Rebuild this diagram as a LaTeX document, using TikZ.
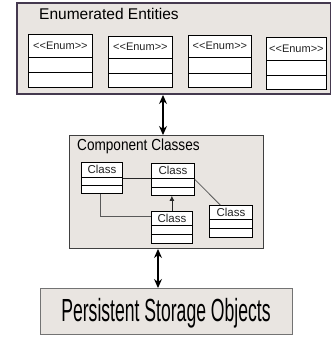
\documentclass[tikz,border=0pt]{standalone}
\usepackage{fontspec}
\setmainfont{Liberation Sans}
\newfontfamily\condfont[FakeStretch=0.85]{Liberation Sans}
\newfontfamily\narrowfont[FakeStretch=0.55]{Liberation Sans}
\usetikzlibrary{arrows.meta,calc}

\definecolor{panelfill}{HTML}{E9E5E1}
\definecolor{paneldraw}{HTML}{45394F}
\definecolor{labeltext}{HTML}{222222}

\tikzset{
  panel/.style={draw=paneldraw, fill=panelfill, anchor=north west, inner sep=0pt},
  umlbox/.style={draw=black, fill=white, line width=0.8pt, anchor=north west, inner sep=0pt},
  biarrow/.style={{Stealth[length=9pt,width=8pt]}-{Stealth[length=9pt,width=8pt]}, line width=1.2pt},
  link/.style={line width=0.8pt, draw=black!85},
}

% name, x, y, width, height, first rule, second rule, text size, header text
\newcommand{\umlclass}[9]{%
  \node[umlbox, minimum width=#4pt, minimum height=#5pt] (#1) at (#2,#3) {};
  \node[font=\fontsize{#8}{12}\selectfont, text=labeltext, inner sep=0pt] (#1-name) at ($(#1.north)+(0,#6/2)$) {#9};
  \draw[line width=0.8pt] ($(#1.north west)+(0,#6)$) -- ($(#1.north east)+(0,#6)$);
  \draw[line width=0.8pt] ($(#1.north west)+(0,#7)$) -- ($(#1.north east)+(0,#7)$);
}
\newcommand{\enumtag}{<\kern0pt<Enum>\kern0pt>}

\begin{document}
\begin{tikzpicture}[x=1pt, y=-1pt]
  \useasboundingbox (0,0) rectangle (331,337);

  % enumerations
  \node[panel, line width=2pt, minimum width=314pt, minimum height=91pt] (enums) at (16,2) {};
  \node[anchor=base west, inner sep=0pt, font=\fontsize{15.5}{18}\selectfont] (enums-title) at (39,20) {Enumerated Entities};
  \umlclass{e1}{28}{34}{64}{53}{23}{38}{11}{\enumtag}
  \umlclass{e2}{108}{36}{64}{51}{22}{37}{11}{\enumtag}
  \umlclass{e3}{188}{35}{63}{52}{22}{38}{11}{\enumtag}
  \umlclass{e4}{266}{37}{60}{52}{23}{38}{11}{\enumtag}

  % components
  \node[panel, draw=black!75, line width=1pt, minimum width=194pt, minimum height=113pt] (classes) at (69,135) {};
  \node[anchor=base west, inner sep=0pt, font=\condfont\fontsize{16}{19}\selectfont] (classes-title) at (77,150) {Component Classes};
  \umlclass{c1}{81}{162}{41}{31}{15}{23}{11.5}{Class}
  \umlclass{c2}{151}{163}{43}{32}{15}{24}{11.5}{Class}
  \umlclass{c3}{151}{211}{41}{32}{14}{23}{11.5}{Class}
  \umlclass{c4}{209}{205}{43}{32}{14}{23}{11.5}{Class}

  \draw[link] (c1.east) -- (c1.east -| c2.west);
  \draw[link, black!65] (c2.east) -- (c4.123);
  \draw[link, -{Latex[length=5pt,width=5pt]}] (c3.north) -- (c3.north |- c2.south);
  \draw[link, black!65] ([xshift=-2pt]c1.south) |- ([yshift=-5pt]c3.north west);

  % storage
  \node[panel, draw=black!55, line width=1.2pt, minimum width=252pt, minimum height=46pt] (storage) at (40,288) {};
  \node[anchor=base, inner sep=0pt, font=\narrowfont\fontsize{32}{36}\selectfont] (storage-title) at (166,321) {Persistent Storage Objects};

  % links between layers
  \coordinate (a1) at (163,0);
  \coordinate (a2) at (158,0);
  \draw[biarrow] (enums.south -| a1) -- (classes.north -| a1);
  \draw[biarrow] (classes.south -| a2) -- (storage.north -| a2);
\end{tikzpicture}
\end{document}
